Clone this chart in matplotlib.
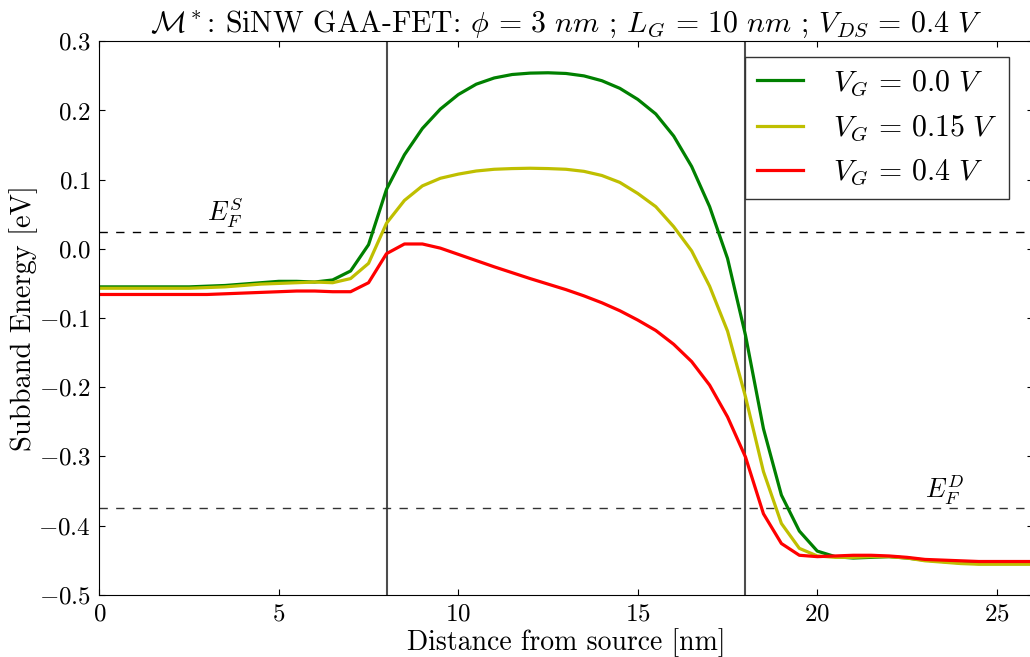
import numpy as np
import matplotlib
matplotlib.use('Agg')
import matplotlib.pyplot as plt

# ---------------- STYLE ----------------
plt.rcParams['font.family'] = 'cmr10'
plt.rcParams['mathtext.fontset'] = 'cm'
plt.rcParams['axes.formatter.use_mathtext'] = True
plt.rcParams['axes.unicode_minus'] = True

# ---------------- DATA ----------------
# position along the wire [nm], 0.5 nm grid
x_nm = np.arange(0, 26.01, 0.5)

# lowest subband energy [eV] for each gate bias
e_vg000 = [-0.055, -0.055, -0.055, -0.055, -0.055, -0.055, -0.054, -0.053, -0.051, -0.049,
           -0.047, -0.047, -0.048, -0.045, -0.032, 0.006, 0.086, 0.136, 0.174, 0.202,
           0.223, 0.238, 0.247, 0.252, 0.254, 0.2545, 0.2535, 0.250, 0.243, 0.232,
           0.216, 0.195, 0.163, 0.119, 0.061, -0.014, -0.125, -0.260, -0.356, -0.408,
           -0.437, -0.445, -0.447, -0.446, -0.445, -0.447, -0.450, -0.452, -0.454, -0.455,
           -0.455, -0.455, -0.455]
e_vg015 = [-0.057, -0.057, -0.057, -0.057, -0.057, -0.057, -0.056, -0.055, -0.053, -0.051,
           -0.050, -0.049, -0.048, -0.049, -0.043, -0.021, 0.037, 0.070, 0.091, 0.102,
           0.108, 0.1125, 0.115, 0.116, 0.1165, 0.116, 0.115, 0.112, 0.106, 0.096,
           0.080, 0.061, 0.032, -0.003, -0.054, -0.119, -0.214, -0.322, -0.397, -0.433,
           -0.444, -0.446, -0.446, -0.445, -0.445, -0.447, -0.451, -0.453, -0.455, -0.456,
           -0.456, -0.456, -0.456]
e_vg040 = [-0.066, -0.066, -0.066, -0.066, -0.066, -0.066, -0.066, -0.065, -0.064, -0.063,
           -0.062, -0.061, -0.061, -0.062, -0.062, -0.049, -0.007, 0.007, 0.007, 0.001,
           -0.008, -0.017, -0.026, -0.0345, -0.043, -0.051, -0.059, -0.068, -0.078, -0.0895,
           -0.103, -0.118, -0.138, -0.163, -0.197, -0.243, -0.301, -0.383, -0.426, -0.443,
           -0.445, -0.444, -0.443, -0.443, -0.444, -0.446, -0.449, -0.450, -0.451, -0.452,
           -0.452, -0.452, -0.452]

vg_labels = [r'$V_G \,=\, 0.0\ V$', r'$V_G \,=\, 0.15\ V$', r'$V_G \,=\, 0.4\ V$']
vg_colors = ['g', (0.75, 0.75, 0), 'r']

ef_source = 0.025
ef_drain = -0.374
gate_edges = [8, 18]

# ---------------- PLOT ----------------
fig = plt.figure(figsize=(10.3, 6.57), dpi=100)
ax = fig.add_axes([99.3 / 1030, 62.3 / 657, 933.4 / 1030, 553.4 / 657])

for xg in gate_edges:
    ax.axvline(xg, color='0.3', lw=1.5, zorder=1)
ax.axhline(ef_source, color='k', ls='--', dashes=(6, 6), lw=1, zorder=1)
ax.axhline(ef_drain, color='0.2', ls='--', dashes=(6, 6), lw=1, zorder=1)

for e, lab, c in zip([e_vg000, e_vg015, e_vg040], vg_labels, vg_colors):
    ax.plot(x_nm, e, color=c, lw=2.3, label=lab, zorder=2)

ax.text(3, ef_source + 0.015, r'$E_F^S$', fontsize=19)
ax.text(23, ef_drain + 0.014, r'$E_F^D$', fontsize=19)

ax.set_xlim(0, 26)
ax.set_ylim(-0.5, 0.3)
ax.set_xticks([0, 5, 10, 15, 20, 25])
ax.set_yticks(np.arange(-0.5, 0.31, 0.1))
ax.tick_params(direction='in', top=True, right=True, length=4, width=0.8, labelsize=18, pad=6)

ax.set_xlabel('Distance from source [nm]', fontsize=20, labelpad=2)
ax.set_ylabel('Subband Energy [eV]', fontsize=20.5, labelpad=0.5)
ax.set_title(r'$\mathcal{M}^*$: SiNW GAA-FET: $\phi \,=\, 3\ nm$ ; $L_G \,=\, 10\ nm$ ; '
             r'$V_{DS} \,=\, 0.4\ V$', fontsize=21.5, pad=7)

leg = ax.legend(loc='upper right', bbox_to_anchor=(0.9746, 0.9716), borderaxespad=0,
                fontsize=21.5, handlelength=1.55, handletextpad=1.0,
                labelspacing=0.5, borderpad=0.38, fancybox=False, framealpha=1)
leg.get_frame().set_edgecolor('0.2')
leg.get_frame().set_linewidth(1)

fig.savefig('out.png', dpi=100)
